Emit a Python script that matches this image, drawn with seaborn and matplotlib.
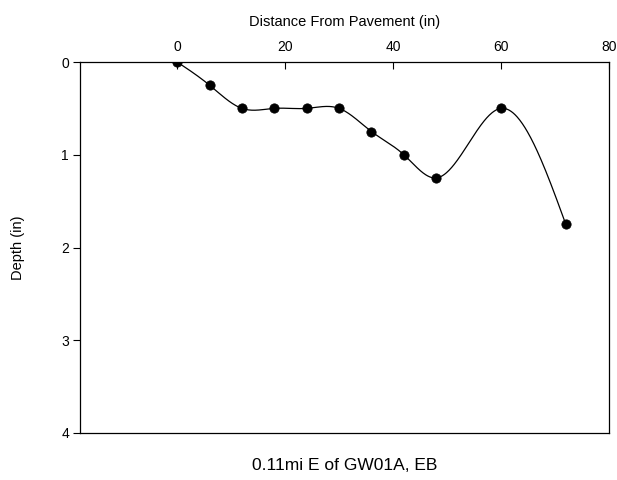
import numpy as np
import pandas as pd
import matplotlib
matplotlib.use("Agg")
import matplotlib.pyplot as plt
import seaborn as sns

# Profile measurements
distance = [0, 6, 12, 18, 24, 30, 36, 42, 48, 60, 72]
depth = [0.0, 0.25, 0.5, 0.5, 0.5, 0.5, 0.75, 1.0, 1.25, 0.5, 1.75]
x_ticks = [0, 20, 40, 60, 80]
y_ticks = [0, 1, 2, 3, 4]


def natural_cubic_spline(x, y, xs):
    x = np.asarray(x, float)
    y = np.asarray(y, float)
    n = len(x)
    h = np.diff(x)
    A = np.zeros((n, n))
    b = np.zeros(n)
    A[0, 0] = 1
    A[-1, -1] = 1
    for i in range(1, n - 1):
        A[i, i - 1] = h[i - 1]
        A[i, i] = 2 * (h[i - 1] + h[i])
        A[i, i + 1] = h[i]
        b[i] = 3 * ((y[i + 1] - y[i]) / h[i] - (y[i] - y[i - 1]) / h[i - 1])
    c = np.linalg.solve(A, b)
    bb = (y[1:] - y[:-1]) / h - h * (2 * c[:-1] + c[1:]) / 3
    d = (c[1:] - c[:-1]) / (3 * h)
    idx = np.clip(np.searchsorted(x, xs) - 1, 0, n - 2)
    dx = xs - x[idx]
    return y[idx] + bb[idx] * dx + c[idx] * dx ** 2 + d[idx] * dx ** 3


sns.set_theme(style="white", rc={"text.color": "black", "axes.labelcolor": "black",
                                 "xtick.color": "black", "ytick.color": "black"})
plt.rcParams["font.family"] = ["Liberation Sans", "DejaVu Sans"]

fig = plt.figure(figsize=(6.17, 4.8), dpi=100)
ax = fig.add_axes([80 / 617, 1 - 433 / 480, (609 - 80) / 617, (433 - 62) / 480])

xs = np.linspace(min(distance), max(distance), 600)
curve = pd.DataFrame({"distance": xs, "depth": natural_cubic_spline(distance, depth, xs)})
pts = pd.DataFrame({"distance": distance, "depth": depth})

sns.lineplot(data=curve, x="distance", y="depth", ax=ax, color="black", linewidth=0.9, sort=False)
sns.scatterplot(data=pts, x="distance", y="depth", ax=ax, color="black", s=45, edgecolor="black", zorder=5)

ax.set_xlim(-18, 80)
ax.set_ylim(4, 0)
ax.set_xticks(x_ticks)
ax.set_yticks(y_ticks)
ax.xaxis.tick_top()
ax.xaxis.set_label_position("top")
ax.tick_params(axis="x", direction="in", length=5, width=0.8, labelsize=10, pad=6, colors="black")
ax.tick_params(axis="y", direction="out", length=5, width=0.8, labelsize=10, pad=3, colors="black", left=True)
ax.set_xlabel("Distance From Pavement (in)", fontsize=10.5, labelpad=10, color="black")
ax.set_ylabel("Depth (in)", fontsize=10.5, labelpad=26, color="black")
for s in ax.spines.values():
    s.set_color("black")
    s.set_linewidth(0.9)

fig.text(344.5 / 617, 1 - 466 / 480, "0.11mi E of GW01A, EB", ha="center", va="center",
         fontsize=12.5, color="black")

fig.savefig("out.png", dpi=100)
